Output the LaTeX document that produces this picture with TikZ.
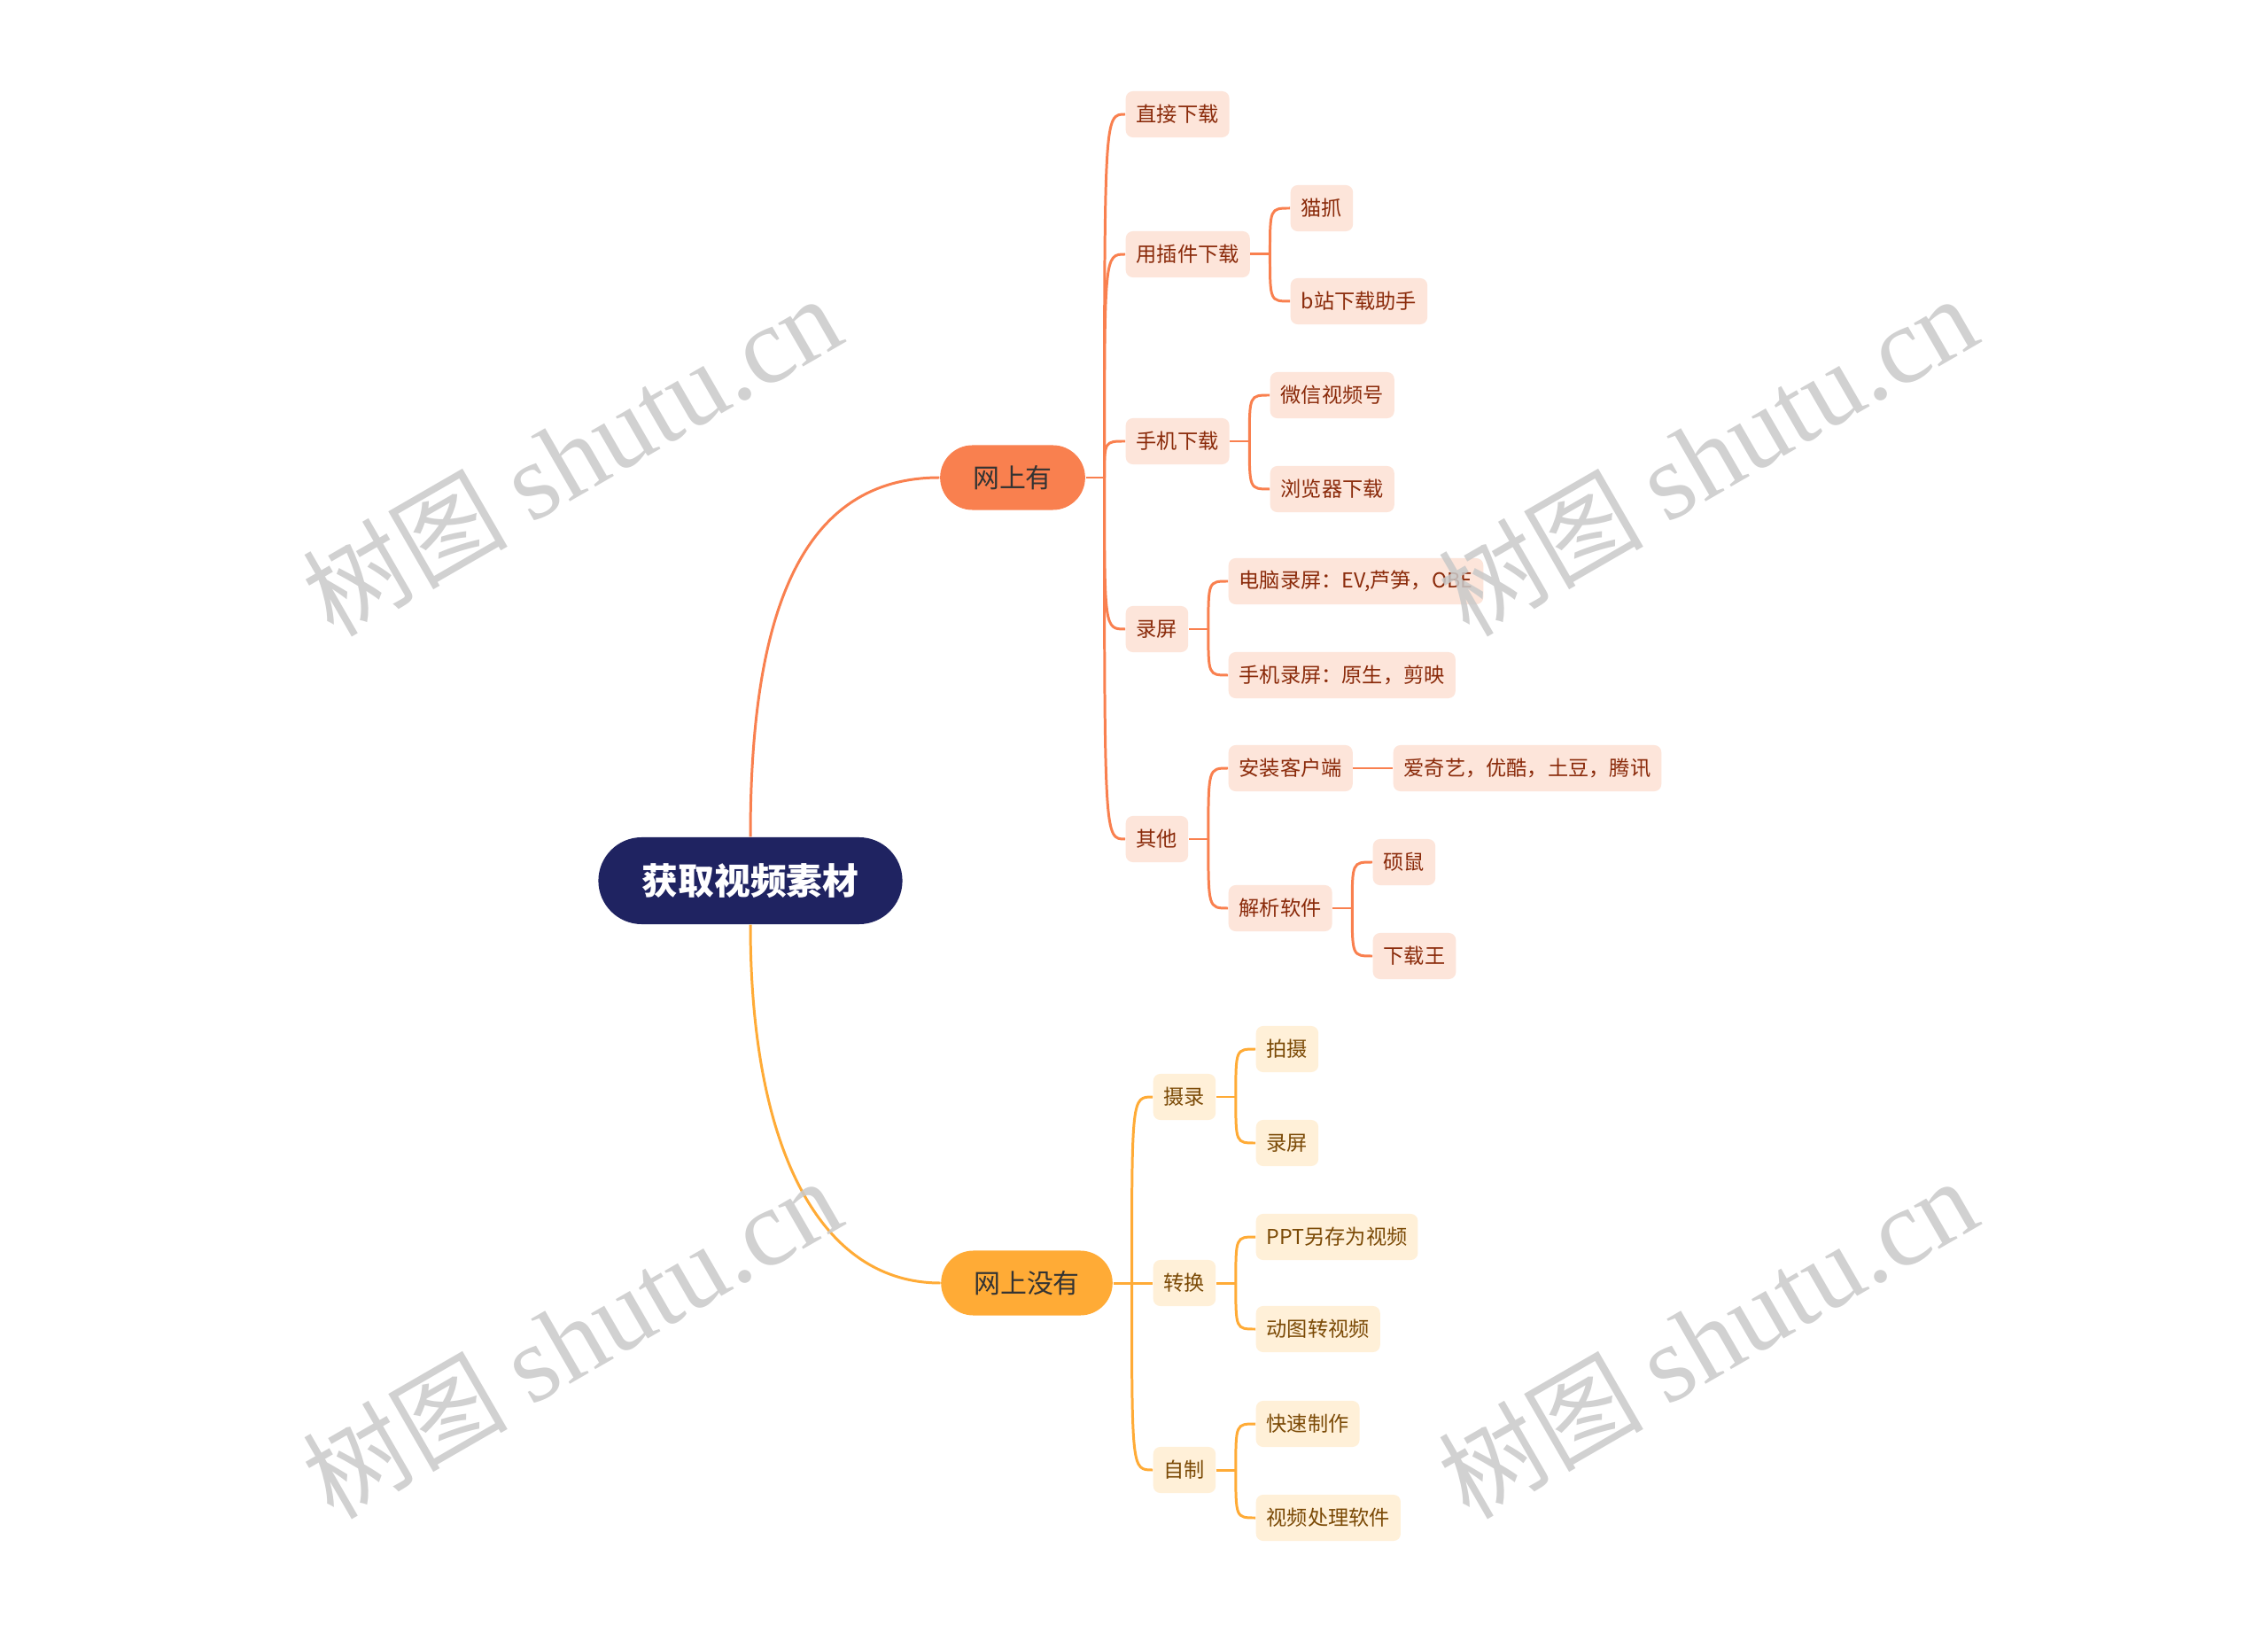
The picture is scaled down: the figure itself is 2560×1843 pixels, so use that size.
\documentclass[tikz,border=0pt]{standalone}
\usepackage{fontspec}
\usepackage{xcolor}
\usepackage{tikz}
\usetikzlibrary{positioning}
\newfontfamily\cjk{Noto Sans CJK SC}
\newfontfamily\wmfont{Liberation Serif}

\definecolor{rootblue}{HTML}{1F2361}
\definecolor{upmain}{HTML}{F9804F}
\definecolor{upfill}{HTML}{FDE5DA}
\definecolor{uptext}{HTML}{8A2A0A}
\definecolor{downmain}{HTML}{FFAB36}
\definecolor{downfill}{HTML}{FFF0D8}
\definecolor{downtext}{HTML}{7B4A06}
\definecolor{wmgray}{HTML}{C9C9C9}

\tikzset{
  root/.style={fill=rootblue, text=white, rounded corners=0.49cm, minimum height=0.98cm,
    minimum width=3.43cm, inner sep=0pt, font=\cjk\bfseries\fontsize{11.6}{13}\selectfont},
  mainbox/.style={rounded corners=0.365cm, minimum height=0.73cm, inner xsep=0.37cm,
    inner ysep=0pt, text=black!80, font=\cjk\fontsize{8.5}{10}\selectfont},
  leaf/.style={rounded corners=0.08cm, inner xsep=0.12cm, inner ysep=0pt, minimum height=0.52cm,
    anchor=west, font=\cjk\fontsize{6.6}{8}\selectfont},
  upleaf/.style={leaf, fill=upfill, text=uptext},
  downleaf/.style={leaf, fill=downfill, text=downtext},
  upline/.style={draw=upmain, line width=0.85pt},
  downline/.style={draw=downmain, line width=0.85pt},
  wm/.style={text=wmgray, opacity=0.85, rotate=30, inner sep=0pt}
}

\begin{document}
\begin{tikzpicture}[x=0.01cm, y=-0.01cm]
  \useasboundingbox[fill=white] (0,0) rectangle (2560,1843);

  % Centre et branches principales
  \node[root] (root) at (847,994) {获取视频素材};
  \node[mainbox, fill=upmain] (wsy) at (1143,539) {网上有};
  \node[mainbox, fill=downmain] (wsmy) at (1159,1448) {网上没有};
  \draw[upline] (root.north) .. controls +(0,-245) and +(-160,0) .. (wsy.west);
  \draw[downline] (root.south) .. controls +(0,245) and +(-140,0) .. (wsmy.west);

  % 网上有
  \node[upleaf] (zjxz) at (1270,129) {直接下载};
  \node[upleaf] (cjxz) at (1270,287) {用插件下载};
  \node[upleaf] (sjxz) at (1270,498) {手机下载};
  \node[upleaf] (lp) at (1270,710) {录屏};
  \node[upleaf] (qt) at (1270,947) {其他};
  \node[upleaf] (mz) at (1456,235) {猫抓};
  \node[upleaf] (bz) at (1456,340) {b站下载助手};
  \node[upleaf] (wx) at (1433,446) {微信视频号};
  \node[upleaf] (llq) at (1433,552) {浏览器下载};
  \node[upleaf] (dnlp) at (1386,656) {电脑录屏：EV,芦笋，OBE};
  \node[upleaf] (sjlp) at (1386,762) {手机录屏：原生，剪映};
  \node[upleaf] (azkhd) at (1386,867) {安装客户端};
  \node[upleaf] (aqy) at (1572,867) {爱奇艺，优酷，土豆，腾讯};
  \node[upleaf] (jxrj) at (1386,1025) {解析软件};
  \node[upleaf] (ss) at (1549,973) {硕鼠};
  \node[upleaf] (xzw) at (1549,1079) {下载王};

  \draw[upline] (wsy.east) -- ++(21,0) coordinate (s1);
  \foreach \c in {zjxz, cjxz, sjxz, lp, qt}
    \draw[upline] (s1) .. controls (s1 |- \c.west) .. (\c.west);
  \foreach \p/\a/\b in {cjxz/mz/bz, sjxz/wx/llq, lp/dnlp/sjlp, qt/azkhd/jxrj, jxrj/ss/xzw} {
    \draw[upline] (\p.east) -- ++(22,0) coordinate (s\p);
    \draw[upline] (s\p) .. controls (s\p |- \a.west) .. (\a.west);
    \draw[upline] (s\p) .. controls (s\p |- \b.west) .. (\b.west);
  }
  \draw[upline] (azkhd.east) -- (aqy.west);

  % 网上没有
  \node[downleaf] (sl) at (1301,1238) {摄录};
  \node[downleaf] (zh) at (1301,1448) {转换};
  \node[downleaf] (zz) at (1301,1659) {自制};
  \node[downleaf] (ps) at (1417,1184) {拍摄};
  \node[downleaf] (lp2) at (1417,1290) {录屏};
  \node[downleaf] (ppt) at (1417,1396) {PPT另存为视频};
  \node[downleaf] (dt) at (1417,1500) {动图转视频};
  \node[downleaf] (kszz) at (1417,1607) {快速制作};
  \node[downleaf] (spcl) at (1417,1713) {视频处理软件};

  \draw[downline] (wsmy.east) -- ++(21,0) coordinate (s2);
  \foreach \c in {sl, zh, zz}
    \draw[downline] (s2) .. controls (s2 |- \c.west) .. (\c.west);
  \foreach \p/\a/\b in {sl/ps/lp2, zh/ppt/dt, zz/kszz/spcl} {
    \draw[downline] (\p.east) -- ++(22,0) coordinate (s\p);
    \draw[downline] (s\p) .. controls (s\p |- \a.west) .. (\a.west);
    \draw[downline] (s\p) .. controls (s\p |- \b.west) .. (\b.west);
  }

  % Filigrane
  \foreach \x/\y in {645/514, 1927/514, 645/1510, 1927/1510}
    \node[wm] at (\x,\y) {\cjk\fontsize{33}{36}\selectfont 树图 \wmfont\fontsize{35}{36}\selectfont shutu.cn};
\end{tikzpicture}
\end{document}
